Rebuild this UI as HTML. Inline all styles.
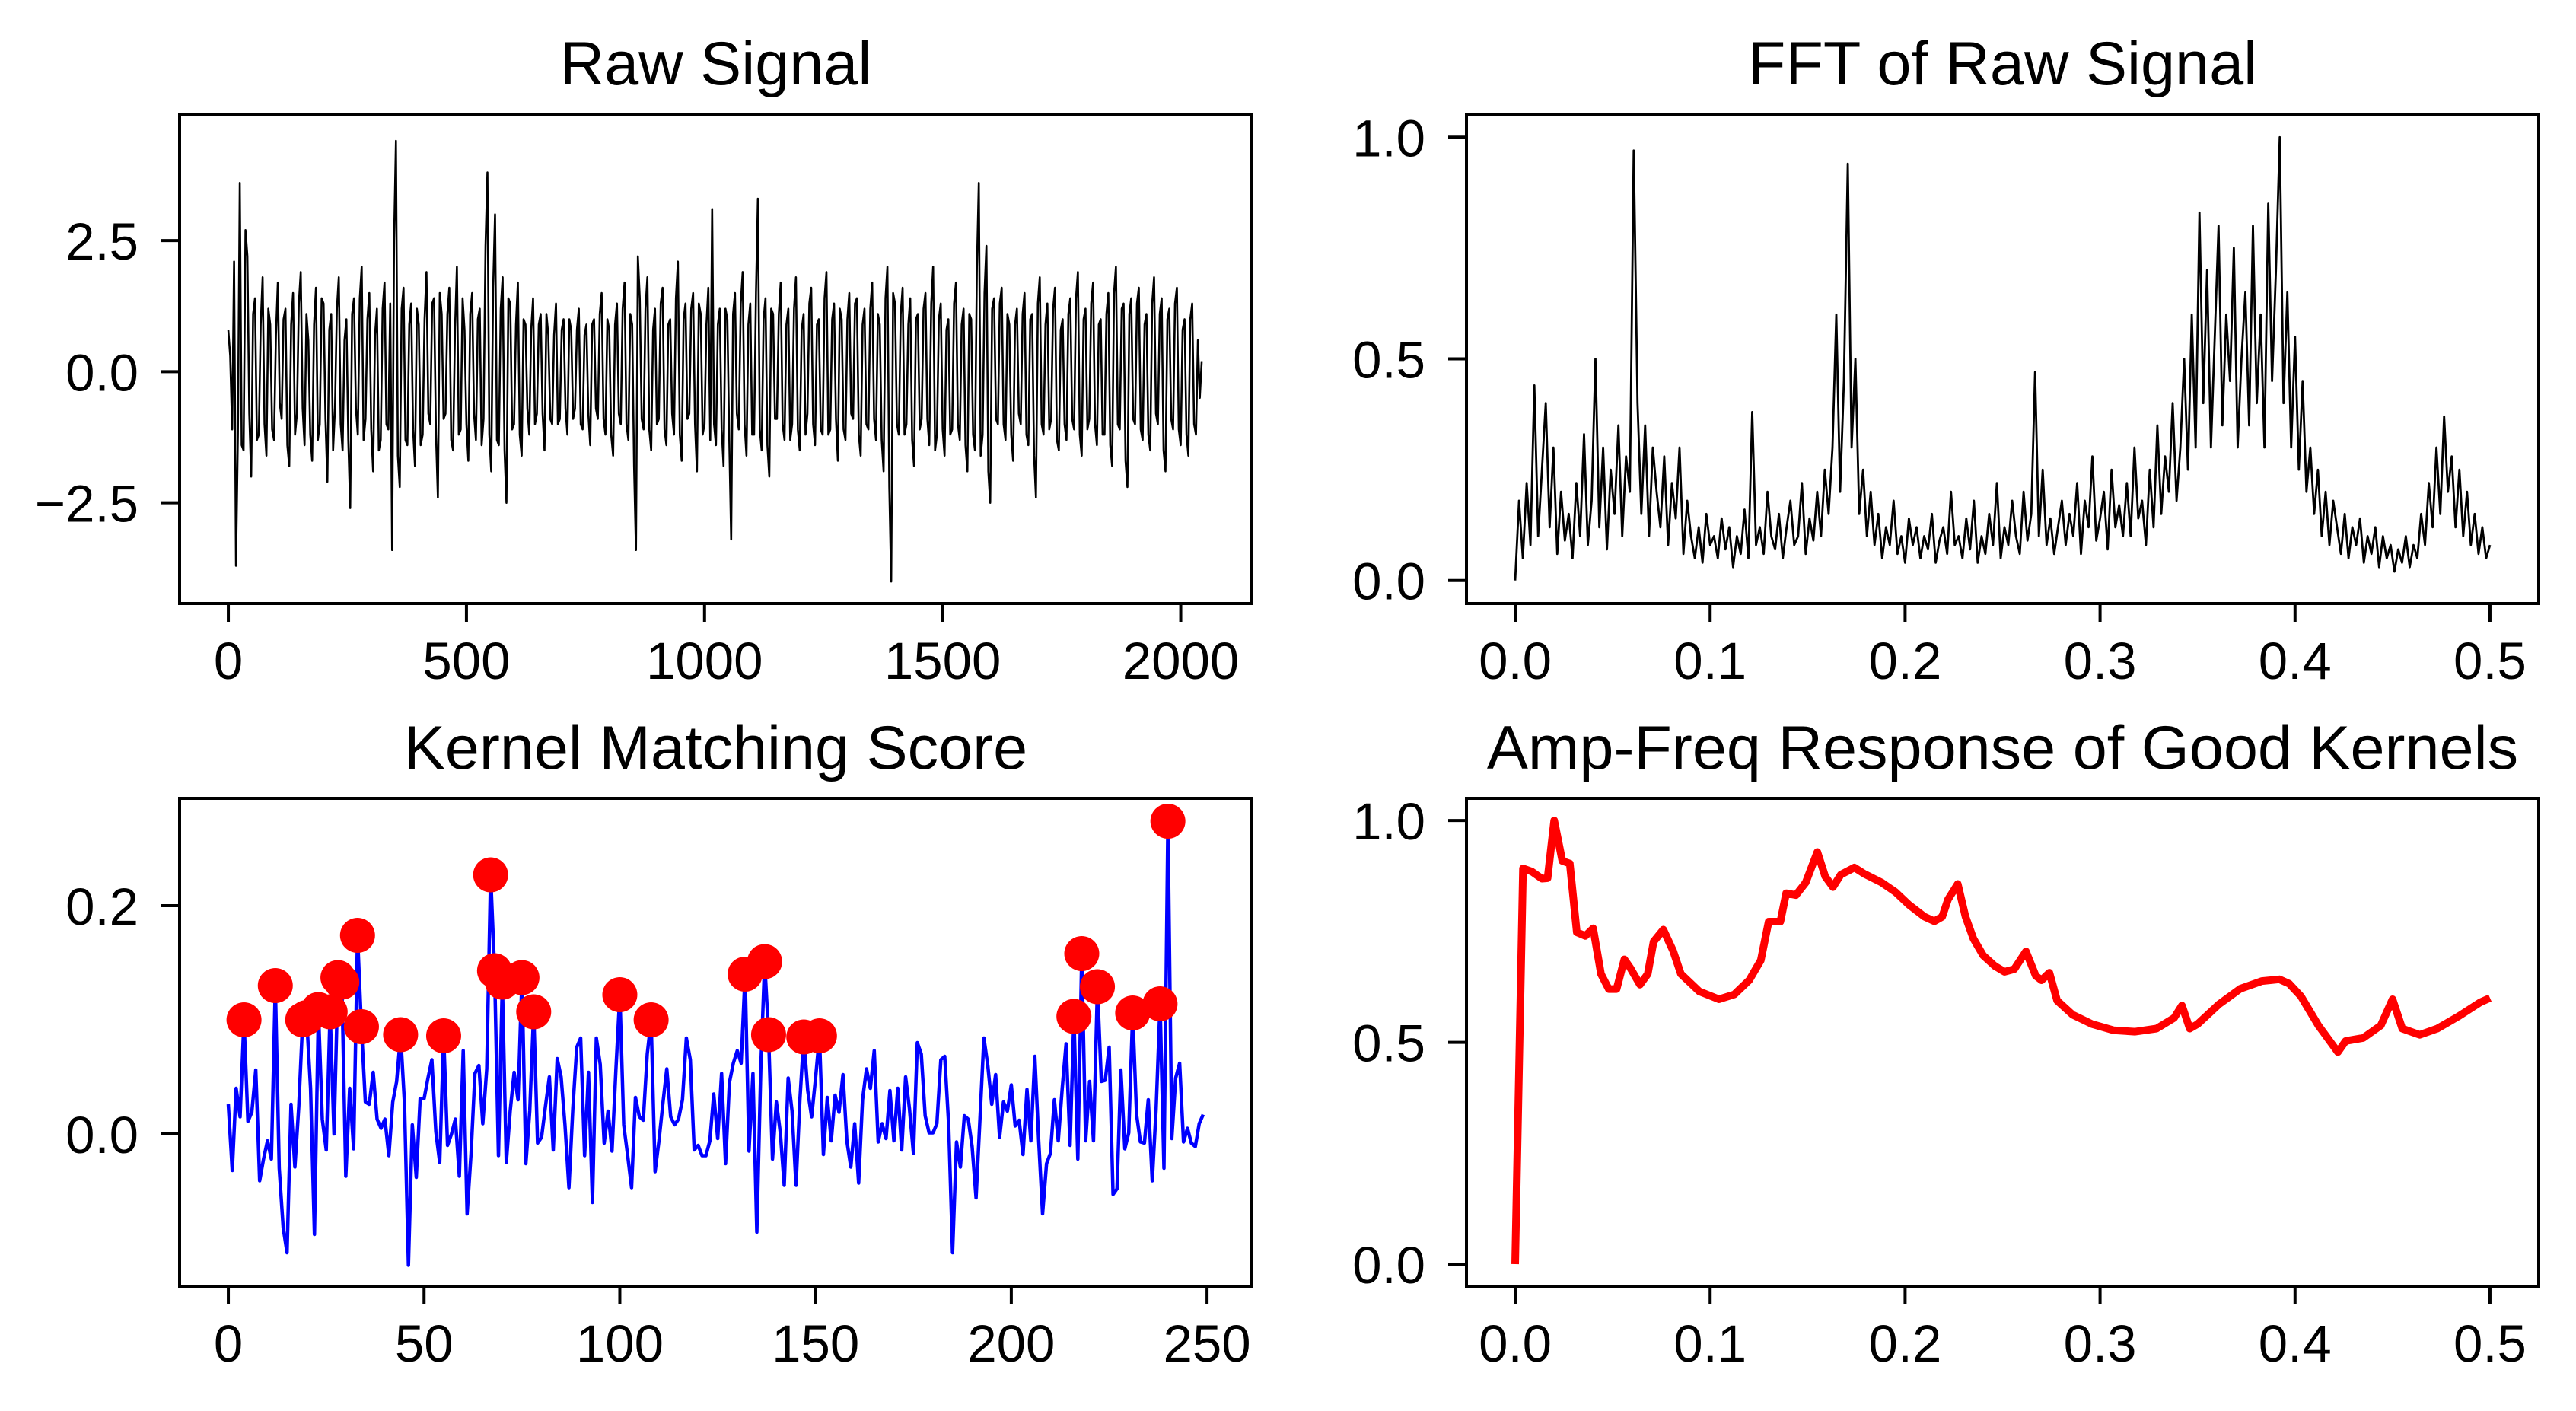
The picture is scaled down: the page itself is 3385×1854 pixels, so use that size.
<!DOCTYPE html>
<html><head><meta charset="utf-8"><style>
html,body{margin:0;padding:0;background:#fff;}
svg{display:block;font-family:"Liberation Sans",Arial,sans-serif;}
</style></head><body>
<svg id="fig" width="3385" height="1854" viewBox="0 0 3385 1854" xmlns="http://www.w3.org/2000/svg"></svg>
<script>
// ---- Raw signal: two interleaved sample sets (even / odd positions), step rawStep ----
const rawStep = 4;
const rawValuesA = [
0.8,-1.1,-3.7,3.6,-1.5,2.2,-2.0,1.4,-1.2,1.8,-1.6,0.9,-1.3,1.7,-0.9,1.2,
-1.8,1.5,-0.8,1.9,-1.4,0.6,-1.7,1.6,-1.0,1.3,-2.1,1.1,-0.7,1.8,-1.5,1.0,
-2.6,1.4,-1.2,2.0,-0.9,1.5,-1.9,1.2,-1.3,1.7,-1.1,-3.4,4.4,-2.2,1.6,-1.4,
1.3,-1.8,0.9,-1.2,1.9,-1.0,1.4,-2.4,1.1,-0.8,1.6,-1.5,2.0,-1.1,0.8,-1.7,
1.5,-1.3,1.2,-0.9,3.8,-1.9,3.0,-1.4,1.8,-2.5,1.3,-1.0,1.7,-1.6,0.9,-1.2,
1.4,-0.8,1.1,-1.5,0.7,-1.0,1.3,-0.9,1.0,-1.2,0.8,-0.7,1.2,-1.1,0.9,-1.4,
1.0,-0.9,1.5,-1.2,0.8,-1.6,1.3,-1.0,1.7,-1.3,0.9,-3.4,1.4,-1.1,1.8,-1.5,
1.2,-0.9,1.6,-1.4,1.0,-1.2,2.1,-1.7,1.3,-0.8,1.5,-1.9,1.1,-1.0,1.6,3.1,
-1.4,1.2,-1.8,1.0,-3.2,1.5,-1.1,1.9,-1.6,1.3,-1.2,3.3,-1.5,1.4,-2.0,1.1,
-0.9,1.7,-1.3,1.2,-1.0,1.8,-1.5,1.1,-0.8,1.6,-1.4,1.0,-1.2,1.9,-1.1,1.3,
-1.7,1.0,-1.3,1.5,-0.9,1.4,-1.6,1.2,-1.1,1.7,-1.3,0.9,-1.9,2.0,-4.0,1.3,
-1.2,1.6,-1.0,1.4,-1.8,1.1,-0.9,1.5,-1.4,2.0,-1.2,1.3,-1.6,1.0,-1.1,1.7,
-1.3,1.2,-1.9,1.0,-1.5,3.6,-1.2,2.4,-2.5,1.4,-1.0,1.6,-1.3,0.9,-1.7,1.2,
-1.0,1.5,-1.4,1.1,-2.4,1.8,-1.2,1.3,-0.9,1.6,-1.5,1.0,-1.3,1.4,-1.1,1.9,
-1.6,1.2,-0.9,1.7,-1.4,1.0,-1.2,1.5,-1.8,2.0,-1.1,1.3,-2.2,1.4,-1.0,1.6,
-1.3,1.1,-1.5,1.8,-1.0,1.4,-1.9,1.2,-1.1,1.6,-1.4,1.0,-1.6,1.3,-1.2,-0.5];
const rawValuesB = [
0.3,2.1,-1.2,-1.4,2.7,-0.8,1.1,-1.3,0.9,-1.0,1.2,-1.1,0.7,-0.6,1.0,-1.4,
0.9,-1.2,1.3,-0.7,1.1,-1.2,0.9,-1.3,1.4,-0.9,0.8,-1.5,1.2,-1.0,0.6,-1.3,
1.1,-0.7,1.4,-1.3,1.0,-1.1,0.7,-1.5,1.2,-1.0,1.3,2.5,-1.6,1.2,-1.3,0.9,
-1.1,1.2,-1.4,1.0,-0.8,1.3,-1.2,1.5,-0.9,1.1,-1.3,0.8,-1.2,1.4,-1.0,1.1,
-0.8,1.0,-1.4,2.4,-1.2,1.6,-1.3,1.2,-1.5,1.4,-1.1,0.9,-1.2,1.0,-0.7,0.8,
-1.0,0.9,-0.8,1.1,-0.9,0.7,-1.0,0.8,-0.7,1.0,-0.9,0.8,-1.0,0.7,-0.8,0.9,
-0.7,1.1,-0.9,1.0,-1.2,0.9,-0.8,1.2,-1.0,1.1,-1.8,2.2,-0.9,1.2,-1.1,0.8,
-1.0,1.3,-1.1,0.9,-0.8,1.4,-1.2,1.0,-0.9,1.2,-1.0,1.3,-1.2,0.9,-1.3,-1.0,
0.9,-1.1,1.2,-1.3,1.1,-0.8,1.3,-1.0,0.9,-1.2,1.5,-1.1,1.0,-1.4,1.2,-0.9,
1.1,-1.0,0.9,-1.3,1.2,-1.1,0.8,-1.2,1.3,-1.0,0.9,-1.1,1.4,-1.2,1.0,-0.9,
1.2,-1.1,1.0,-0.8,1.3,-1.2,0.9,-1.0,1.2,-0.9,1.1,-1.3,1.4,-2.2,1.5,-1.0,
1.1,-1.2,0.9,-1.3,1.0,-1.1,1.2,-0.9,1.3,-1.5,1.0,-1.1,0.8,-1.2,1.3,-1.0,
0.9,-1.4,1.1,-1.2,2.0,-1.6,1.5,-1.9,1.2,-0.9,1.3,-1.0,1.1,-1.2,0.9,-0.8,
1.1,-1.2,1.0,-1.6,1.3,-1.0,0.9,-1.1,1.2,-1.3,0.8,-1.0,1.1,-0.9,1.4,-1.2,
1.0,-1.1,1.3,-1.0,0.9,-1.2,1.1,-1.4,1.5,-1.0,1.2,-1.7,1.1,-0.9,1.3,-1.1,
0.9,-1.2,1.3,-0.8,1.1,-1.5,1.0,-0.9,1.3,-1.1,0.8,-1.2,1.0,-1.0,0.6,0.2];
const rawXTicks = [0,500,1000,1500,2000];
const rawYTicks = [-2.5,0,2.5];
const rawYLabels = ["\u22122.5","0.0","2.5"];

// ---- FFT ----
const fftMaxFreq = 0.5;
const fftValues = [
0.0,0.18,0.05,0.22,0.08,0.44,0.1,0.25,0.4,0.12,0.3,0.06,0.2,0.09,0.15,0.05,
0.22,0.1,0.33,0.08,0.18,0.5,0.12,0.3,0.07,0.25,0.15,0.35,0.1,0.28,0.2,0.97,
0.4,0.15,0.35,0.1,0.3,0.2,0.12,0.28,0.08,0.22,0.14,0.3,0.06,0.18,0.1,0.05,
0.12,0.04,0.15,0.08,0.1,0.05,0.14,0.07,0.12,0.03,0.1,0.06,0.16,0.05,0.38,0.08,
0.12,0.06,0.2,0.1,0.07,0.15,0.05,0.12,0.18,0.08,0.1,0.22,0.06,0.14,0.09,0.2,
0.1,0.25,0.15,0.3,0.6,0.2,0.45,0.94,0.3,0.5,0.15,0.25,0.1,0.2,0.08,0.15,
0.05,0.12,0.08,0.18,0.06,0.1,0.04,0.14,0.08,0.12,0.05,0.1,0.07,0.15,0.04,0.09,
0.12,0.06,0.2,0.08,0.1,0.05,0.14,0.07,0.18,0.04,0.1,0.06,0.15,0.08,0.22,0.05,
0.12,0.08,0.18,0.1,0.06,0.2,0.09,0.15,0.47,0.1,0.25,0.08,0.14,0.06,0.12,0.18,
0.08,0.15,0.1,0.22,0.06,0.18,0.12,0.28,0.09,0.14,0.2,0.07,0.25,0.12,0.17,0.1,
0.22,0.1,0.3,0.14,0.18,0.08,0.25,0.12,0.35,0.15,0.28,0.2,0.4,0.18,0.3,0.5,
0.25,0.6,0.3,0.83,0.4,0.7,0.3,0.55,0.8,0.35,0.6,0.45,0.75,0.3,0.5,0.65,
0.35,0.8,0.4,0.6,0.3,0.85,0.45,0.7,1.0,0.4,0.65,0.3,0.55,0.25,0.45,0.2,
0.3,0.15,0.25,0.1,0.2,0.08,0.18,0.12,0.06,0.15,0.05,0.12,0.08,0.14,0.04,0.1,
0.06,0.12,0.03,0.1,0.05,0.08,0.02,0.07,0.04,0.1,0.03,0.08,0.05,0.15,0.08,0.22,
0.12,0.3,0.15,0.37,0.2,0.28,0.12,0.25,0.1,0.2,0.08,0.15,0.06,0.12,0.05,0.08];
const freqXTicks = [0,0.1,0.2,0.3,0.4,0.5];
const freqXLabels = ["0.0","0.1","0.2","0.3","0.4","0.5"];
const unitYTicks = [0,0.5,1.0];
const unitYLabels = ["0.0","0.5","1.0"];

// ---- Kernel matching score ----
const scoreValues = [
0.026,-0.032,0.04,0.015,0.1,0.011,0.019,0.056,-0.041,-0.022,-0.006,-0.022,0.13,-0.03,-0.082,-0.104,
0.026,-0.029,0.024,0.1,0.102,0.04,-0.088,0.109,0.013,-0.014,0.107,0,0.137,0.133,-0.037,0.04,
-0.013,0.174,0.094,0.028,0.026,0.054,0.013,0.005,0.013,-0.019,0.028,0.046,0.087,0.027,-0.115,0.008,
-0.038,0.031,0.031,0.049,0.065,0.002,-0.025,0.086,-0.01,0,0.013,-0.037,0.073,-0.07,-0.017,0.053,
0.06,0.009,0.057,0.227,0.143,-0.019,0.133,-0.025,0.02,0.054,0.03,0.137,-0.026,0.02,0.107,-0.008,
-0.003,0.024,0.05,-0.014,0.066,0.05,0.008,-0.047,0.022,0.076,0.084,-0.019,0.054,-0.06,0.084,0.061,
-0.008,0.02,-0.015,0.056,0.122,0.008,-0.019,-0.047,0.032,0.015,0.012,0.07,0.1,-0.033,-0.006,0.027,
0.057,0.015,0.008,0.013,0.03,0.084,0.065,-0.014,-0.01,-0.019,-0.019,-0.006,0.035,-0.004,0.053,-0.026,
0.045,0.062,0.073,0.062,0.14,-0.015,0.053,-0.086,0.057,0.151,0.087,-0.022,0.028,0.001,-0.045,0.049,
0.02,-0.045,0.03,0.085,0.038,0.015,0.049,0.086,-0.018,0.032,-0.006,0.034,0.019,0.052,-0.006,-0.029,
0.009,-0.043,0.03,0.057,0.04,0.073,-0.007,0.009,-0.004,0.038,-0.006,0.04,-0.014,0.05,0.022,-0.017,
0.08,0.07,0.016,0.001,0.001,0.009,0.065,0.068,0.008,-0.104,-0.007,-0.029,0.016,0.013,-0.011,-0.056,
0.013,0.084,0.06,0.026,0.052,-0.003,0.028,0.02,0.043,0.007,0.012,-0.018,0.039,-0.006,0.068,-0.006,
-0.07,-0.026,-0.017,0.03,-0.006,0.04,0.079,-0.01,0.103,-0.022,0.158,-0.006,0.046,-0.006,0.129,0.046,
0.047,0.076,-0.053,-0.048,0.056,-0.013,0.001,0.106,0.017,-0.007,-0.008,0.03,-0.041,0.022,0.114,-0.03,
0.274,-0.004,0.049,0.062,-0.007,0.005,-0.008,-0.011,0.009,0.017];
const peakIdx = [4,12,19,20,23,26,28,29,33,34,44,55,67,68,70,75,78,100,108,132,137,138,147,151,216,218,222,231,238,240];
const scoreXTicks = [0,50,100,150,200,250];
const scoreYTicks = [0,0.2];
const scoreYLabels = ["0.0","0.2"];

// ---- Amp-Freq response ----
const respFreq = [0,0.004,0.0085,0.0137,0.0166,0.02,0.0242,0.028,0.0316,0.036,0.04,0.044,0.048,0.052,0.056,0.059,0.064,0.068,0.071,0.076,0.081,0.085,0.0944,0.1045,0.1124,0.12,0.126,0.13,0.136,0.139,0.144,0.149,0.155,0.159,0.163,0.167,0.174,0.179,0.188,0.195,0.202,0.21,0.215,0.219,0.222,0.227,0.231,0.235,0.24,0.246,0.251,0.256,0.262,0.267,0.27,0.274,0.278,0.286,0.296,0.307,0.318,0.329,0.338,0.342,0.346,0.35,0.361,0.372,0.383,0.392,0.397,0.403,0.412,0.422,0.426,0.435,0.444,0.45,0.455,0.464,0.473,0.484,0.495,0.5];
const respAmp = [0.0,0.892,0.885,0.869,0.87,1.0,0.909,0.903,0.748,0.74,0.757,0.654,0.62,0.62,0.687,0.668,0.63,0.654,0.727,0.754,0.706,0.654,0.615,0.597,0.608,0.64,0.685,0.772,0.772,0.836,0.832,0.86,0.929,0.874,0.85,0.878,0.894,0.88,0.86,0.839,0.81,0.783,0.773,0.783,0.822,0.857,0.783,0.734,0.696,0.672,0.659,0.665,0.705,0.65,0.64,0.657,0.594,0.562,0.541,0.527,0.524,0.531,0.555,0.583,0.531,0.541,0.586,0.621,0.638,0.642,0.632,0.604,0.538,0.478,0.503,0.51,0.538,0.597,0.531,0.517,0.531,0.559,0.59,0.6];

const NS = "http://www.w3.org/2000/svg";
const svg = document.getElementById('fig');
function mk(tag, attrs, parent){
  const e = document.createElementNS(NS, tag);
  for (const k in attrs) e.setAttribute(k, attrs[k]);
  (parent||svg).appendChild(e);
  return e;
}
function axes(o){
  const g = mk('g', {});
  
  
  const sx = v => o.x0 + (v - o.xmin) / (o.xmax - o.xmin) * (o.x1 - o.x0);
  const sy = v => o.y1 - (v - o.ymin) / (o.ymax - o.ymin) * (o.y1 - o.y0);
  const t = mk('text', {x:(o.x0+o.x1)/2, y:o.y0-39, 'font-size':81, 'text-anchor':'middle', fill:'#000'}, g);
  t.textContent = o.title;
  
  
  o.xticks.forEach((v,i) => {
    const x = sx(v);
    const tk = mk('line', {x1:x, x2:x, y1:o.y1, y2:o.y1+24, stroke:'#000', 'stroke-width':4}, g);
    
    
    const lb = mk('text', {x:x, y:o.y1+99, 'font-size':69, 'text-anchor':'middle', fill:'#000'}, g);
    lb.textContent = o.xlabels ? o.xlabels[i] : String(v);
    
    
  });
  o.yticks.forEach((v,i) => {
    const y = sy(v);
    const tk = mk('line', {x1:o.x0-24, x2:o.x0, y1:y, y2:y, stroke:'#000', 'stroke-width':4}, g);
    
    
    const lb = mk('text', {x:o.x0-54, y:y+25, 'font-size':69, 'text-anchor':'end', fill:'#000'}, g);
    lb.textContent = o.ylabels[i];
    
    
  });
  const plot = mk('g', {}, g);
  
  
  const frame = () => {
    const r = mk('rect', {x:o.x0, y:o.y0, width:o.x1-o.x0, height:o.y1-o.y0, fill:'none', stroke:'#000', 'stroke-width':4}, g);
    
    
  };
  return {g, plot, sx, sy, frame};
}
function polyline(parent, xs, ys, ax, color, w, name){
  const pts = xs.map((x,i) => ax.sx(x).toFixed(1) + ',' + ax.sy(ys[i]).toFixed(1)).join(' ');
  const p = mk('polyline', {points:pts, fill:'none', stroke:color, 'stroke-width':w, 'stroke-linejoin':'round'}, parent);
  
  
  return p;
}

// Raw signal
(function(){
  const n = 2048;
  const ax = axes({name:'raw-signal-chart', title:'Raw Signal', x0:236, x1:1645, y0:150, y1:793,
    xmin:-0.05*(n-1), xmax:(n-1)*1.05, ymin:-4.42, ymax:4.91,
    xticks:rawXTicks, yticks:rawYTicks, ylabels:rawYLabels});
  const ys = [];
  rawValuesA.forEach((v,i) => { ys.push(v); if (i < rawValuesB.length) ys.push(rawValuesB[i]); });
  const xs = ys.map((v,i) => i*rawStep);
  polyline(ax.plot, xs, ys, ax, '#000', 2.6, 'raw-signal-line');
  ax.frame();
})();

// FFT
(function(){
  const ax = axes({name:'fft-chart', title:'FFT of Raw Signal', x0:1927, x1:3336, y0:150, y1:793,
    xmin:-0.025, xmax:0.525, ymin:-0.052, ymax:1.052,
    xticks:freqXTicks, xlabels:freqXLabels, yticks:unitYTicks, ylabels:unitYLabels});
  const xs = fftValues.map((v,i) => i*fftMaxFreq/(fftValues.length-1));
  polyline(ax.plot, xs, fftValues, ax, '#000', 2.8, 'fft-line');
  ax.frame();
})();

// Kernel matching score
(function(){
  const n = scoreValues.length;
  const ax = axes({name:'kernel-score-chart', title:'Kernel Matching Score', x0:236, x1:1645, y0:1049, y1:1690,
    xmin:-0.05*(n-1), xmax:(n-1)*1.05, ymin:-0.1333, ymax:0.294,
    xticks:scoreXTicks, yticks:scoreYTicks, ylabels:scoreYLabels});
  const xs = scoreValues.map((v,i) => i);
  polyline(ax.plot, xs, scoreValues, ax, '#0000ff', 4.5, 'score-line');
  peakIdx.forEach(i => {
    const c = mk('circle', {cx:ax.sx(i), cy:ax.sy(scoreValues[i]), r:23, fill:'#ff0000'}, ax.plot);
    
    
  });
  ax.frame();
})();

// Amp-freq response
(function(){
  const ax = axes({name:'amp-freq-chart', title:'Amp-Freq Response of Good Kernels', x0:1927, x1:3336, y0:1049, y1:1690,
    xmin:-0.025, xmax:0.525, ymin:-0.0497, ymax:1.05,
    xticks:freqXTicks, xlabels:freqXLabels, yticks:unitYTicks, ylabels:unitYLabels});
  polyline(ax.plot, respFreq, respAmp, ax, '#ff0000', 10, 'response-line');
  ax.frame();
})();
</script>
</body></html>
